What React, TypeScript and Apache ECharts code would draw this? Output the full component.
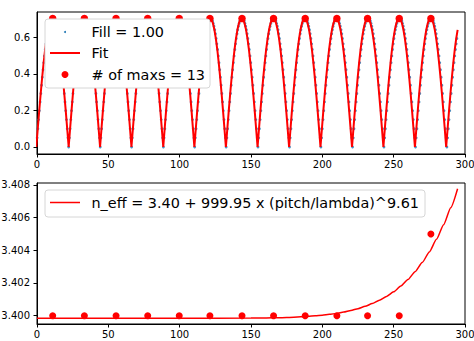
import React, { useEffect, useRef } from "react";
import * as echarts from "echarts";

// ---------- data ----------
const xTicks = [0, 50, 100, 150, 200, 250, 300];
const topYTicks = [0, 0.2, 0.4, 0.6];
const bottomYTicks = [3.4, 3.402, 3.404, 3.406, 3.408];

// top panel: positions of the minima of the fit curve (x), and the shape of one period (trough -> trough)
const fitTroughX = [-0.5, 22.2, 44.2, 66.2, 88.5, 110.3, 132.4, 154.6, 176.7, 198.7, 220.8, 242.8, 264.9, 286.8, 308.9];
const fitProfile = [0, 0.1, 0.199, 0.293, 0.382, 0.462, 0.534, 0.594, 0.642, 0.677, 0.699, 0.706, 0.699, 0.677, 0.642, 0.594, 0.534, 0.462, 0.382, 0.293, 0.199, 0.1, 0];
const fitEndX = 295.0;

// top panel: measured data (small blue dots), slightly lagging the fit at larger x
const dataTroughX = [-0.4, 22.2, 44.3, 66.3, 88.6, 110.5, 132.6, 154.9, 177.0, 199.0, 221.2, 243.2, 265.3, 287.3, 309.4];
const dataProfile = [
  0, 0.05, 0.1, 0.15, 0.199, 0.247, 0.293, 0.338, 0.382, 0.423, 0.462, 0.499, 0.534, 0.565, 0.594, 0.62,
  0.642, 0.661, 0.677, 0.69, 0.699, 0.704, 0.706, 0.704, 0.699, 0.69, 0.677, 0.661, 0.642, 0.62, 0.594,
  0.565, 0.534, 0.499, 0.462, 0.423, 0.382, 0.338, 0.293, 0.247, 0.199, 0.15, 0.1, 0.05, 0,
];
const dataEndX = 294.8;

// maxima
const maxX = [11.0, 33.2, 55.4, 77.6, 99.7, 121.2, 143.7, 165.8, 188.0, 210.2, 231.7, 253.9, 276.1];
const maxFill = [0.704, 0.704, 0.704, 0.704, 0.704, 0.704, 0.704, 0.704, 0.704, 0.704, 0.704, 0.704, 0.704];
const maxNeff = [3.4, 3.4, 3.4, 3.4, 3.4, 3.4, 3.4, 3.4, 3.4, 3.4, 3.4, 3.4, 3.405];

// bottom panel fit curve
const neffFitX = [
  0, 100, 150, 160, 170, 180, 185, 190, 195, 200, 205, 210, 215, 220, 225, 230, 235, 240, 245, 250, 255,
  260, 265, 270, 275, 280, 285, 290, 294.8,
];
const neffFitY = [
  3.39984, 3.39984, 3.39985, 3.39986, 3.39988, 3.39991, 3.39993, 3.39996, 3.39999, 3.40003, 3.40008,
  3.40014, 3.40022, 3.40032, 3.40043, 3.40057, 3.40074, 3.40094, 3.40118, 3.40146, 3.40181, 3.40221,
  3.40269, 3.40325, 3.4039, 3.40467, 3.40557, 3.40661, 3.40777,
];

const legendTop = ["Fill = 1.00", "Fit", "# of maxs = 13"];
const legendBottom = "n_eff = 3.40 + 999.95 x (pitch/lambda)^9.61";

// ---------- helpers ----------
function tile(troughs: number[], profile: number[], endX: number) {
  const n = profile.length - 1;
  const pts: number[][] = [];
  for (let k = 0; k < troughs.length - 1; k++) {
    const a = troughs[k];
    const b = troughs[k + 1];
    for (let i = k === 0 ? 0 : 1; i <= n; i++) {
      const x = a + ((b - a) * i) / n;
      if (x > endX) return pts;
      pts.push([x, profile[i]]);
    }
  }
  return pts;
}

const FONT = "DejaVu Sans";
const RED = "#ff0000";
const BLUE = "#1f77b4";

function xAxisCfg(gridIndex: number) {
  return {
    type: "value" as const,
    gridIndex,
    min: xTicks[0],
    max: xTicks[xTicks.length - 1],
    interval: 50,
    splitLine: { show: false },
    axisLine: { show: true, onZero: false, lineStyle: { color: "#000", width: 1 } },
    axisTick: { show: true, length: 3.5, lineStyle: { color: "#000", width: 1 } },
    axisLabel: { fontSize: 10, color: "#000", fontFamily: FONT, margin: 5.5 },
  };
}

function yAxisCfg(gridIndex: number, min: number, max: number, ticks: number[], digits: number) {
  return {
    type: "value" as const,
    gridIndex,
    min,
    max,
    splitLine: { show: false },
    axisLine: { show: true, onZero: false, lineStyle: { color: "#000", width: 1 } },
    axisTick: { show: true, length: 3.5, customValues: ticks, lineStyle: { color: "#000", width: 1 } },
    axisLabel: {
      fontSize: 10,
      color: "#000",
      fontFamily: FONT,
      margin: 7,
      customValues: ticks,
      formatter: (v: number) => v.toFixed(digits),
    },
  };
}

const txt = (text: string, x: number, y: number) => ({
  type: "text",
  z2: 3,
  style: { text, x, y, fill: "#000", fontSize: 14.4, fontFamily: FONT, verticalAlign: "middle", align: "left" },
});

const boxStyle = { fill: "#ffffff", stroke: "#d6d6d6", lineWidth: 1 };

// legend boxes drawn by a custom series so that they sit above the plotted marks
function renderLegends() {
  return {
    type: "group",
    children: [
      { type: "rect", z2: 1, shape: { x: 45, y: 19, width: 165, height: 69, r: 3 }, style: boxStyle },
      { type: "circle", z2: 3, shape: { cx: 65, cy: 32, r: 1 }, style: { fill: BLUE } },
      txt(legendTop[0], 91.5, 32),
      { type: "line", z2: 3, shape: { x1: 50, y1: 53, x2: 80, y2: 53 }, style: { stroke: RED, lineWidth: 2 } },
      txt(legendTop[1], 91.5, 53),
      { type: "circle", z2: 3, shape: { cx: 65, cy: 74.5, r: 3.5 }, style: { fill: RED } },
      txt(legendTop[2], 91.5, 74.5),
      { type: "rect", z2: 1, shape: { x: 45, y: 190, width: 380, height: 27, r: 3 }, style: boxStyle },
      { type: "line", z2: 3, shape: { x1: 50, y1: 202.5, x2: 80, y2: 202.5 }, style: { stroke: RED, lineWidth: 1.5 } },
      txt(legendBottom, 91.5, 202.5),
    ],
  };
}

export default function App() {
  const ref = useRef<HTMLDivElement>(null);

  useEffect(() => {
    document.body.style.margin = "0";
    if (!ref.current) return;
    const chart = echarts.init(ref.current, undefined, { renderer: "svg" });

    const fitLine = tile(fitTroughX, fitProfile, fitEndX);
    const dataPts = tile(dataTroughX, dataProfile, dataEndX).filter((p) => p[0] >= 0);
    const maxPts = maxX.map((x, i) => [x, maxFill[i]]);
    const neffPts = maxX.map((x, i) => [x, maxNeff[i]]);
    const neffFit = neffFitX.map((x, i) => [x, neffFitY[i]]);

    chart.setOption({
      animation: false,
      backgroundColor: "#fff",
      grid: [
        { left: 37, top: 12, width: 428, height: 142, show: true, borderColor: "#000", borderWidth: 1, backgroundColor: "transparent", outerBoundsMode: "none" },
        { left: 37, top: 183, width: 428, height: 141, show: true, borderColor: "#000", borderWidth: 1, backgroundColor: "transparent", outerBoundsMode: "none" },
      ],
      xAxis: [xAxisCfg(0), xAxisCfg(1)],
      yAxis: [
        yAxisCfg(0, -0.0385, 0.7395, topYTicks, 1),
        yAxisCfg(1, 3.39949, 3.40812, bottomYTicks, 3),
      ],
      series: [
        {
          name: legendTop[0],
          type: "scatter",
          xAxisIndex: 0,
          yAxisIndex: 0,
          data: dataPts,
          symbolSize: 2.8,
          itemStyle: { color: BLUE, opacity: 0.8 },
          z: 1,
        },
        {
          name: legendTop[1],
          type: "line",
          xAxisIndex: 0,
          yAxisIndex: 0,
          data: fitLine,
          showSymbol: false,
          lineStyle: { color: RED, width: 2 },
          z: 2,
        },
        {
          name: legendTop[2],
          type: "scatter",
          xAxisIndex: 0,
          yAxisIndex: 0,
          data: maxPts,
          symbolSize: 7.5,
          itemStyle: { color: RED, opacity: 1 },
          z: 3,
        },
        {
          name: legendBottom,
          type: "line",
          xAxisIndex: 1,
          yAxisIndex: 1,
          data: neffFit,
          showSymbol: false,
          smooth: 0.2,
          smoothMonotone: "x",
          lineStyle: { color: RED, width: 1.5 },
          z: 2,
        },
        {
          name: "n_eff",
          type: "scatter",
          xAxisIndex: 1,
          yAxisIndex: 1,
          data: neffPts,
          symbolSize: 7,
          itemStyle: { color: RED, opacity: 1 },
          z: 3,
        },
        {
          name: "legends",
          type: "custom",
          xAxisIndex: 0,
          yAxisIndex: 0,
          data: [[0, 0]],
          clip: false,
          silent: true,
          z: 20,
          renderItem: renderLegends,
        },
      ],
    });

    return () => chart.dispose();
  }, []);

  return <div ref={ref} style={{ width: 474, height: 341 }} />;
}
